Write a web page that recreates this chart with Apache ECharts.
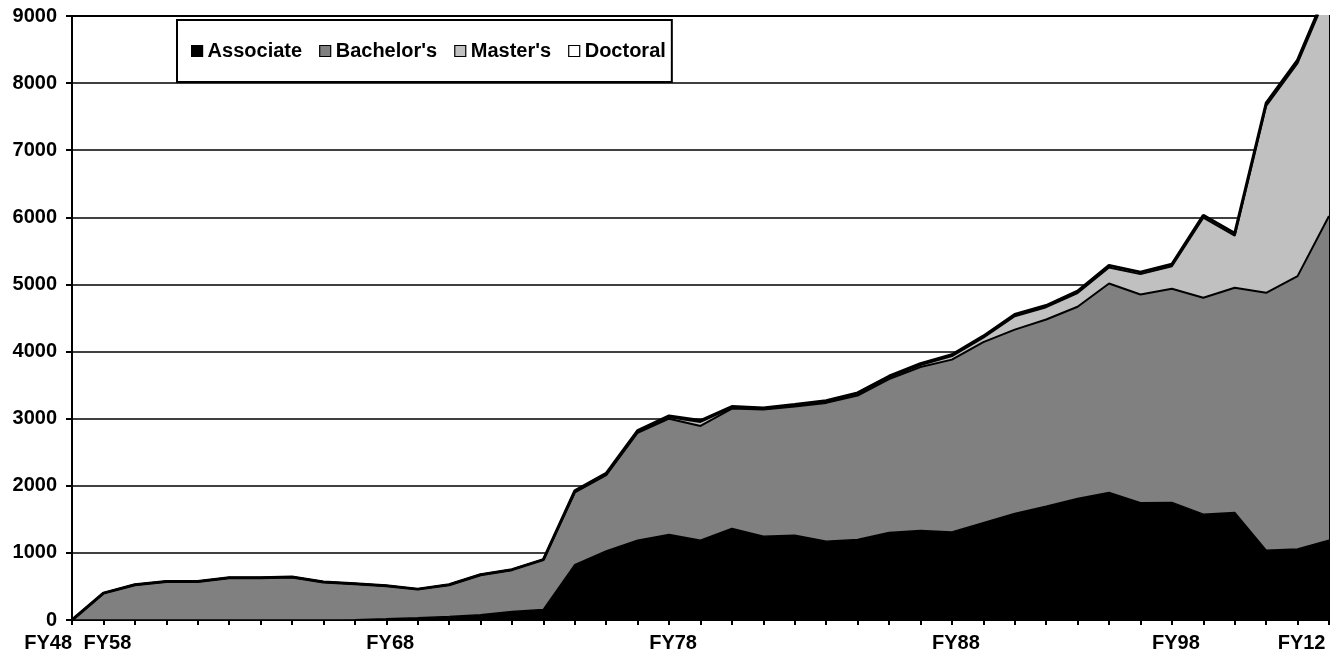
<!DOCTYPE html>
<html>
<head>
<meta charset="utf-8">
<script src="https://cdn.jsdelivr.net/npm/echarts@6/dist/echarts.min.js"></script>
<style>
html,body{margin:0;padding:0;background:#fff;}
#c{width:1340px;height:658px;}
</style>
</head>
<body>
<div id="c"></div>
<script>
const categories = ['FY48','FY58','FY59','FY60','FY61','FY62','FY63','FY64','FY65','FY66','FY68','FY69','FY70','FY71','FY72','FY73','FY74','FY75','FY76','FY78','FY79','FY80','FY81','FY82','FY83','FY84','FY85','FY86','FY88','FY89','FY90','FY91','FY92','FY94','FY96','FY98','FY00','FY03','FY06','FY12','FY13'];
const shownLabels = ['FY48','FY58','FY68','FY78','FY88','FY98','FY12'];
const yTicks = [0,1000,2000,3000,4000,5000,6000,7000,8000,9000];

const associate = [0,0,0,0,0,0,0,0,0,5,18,33,52,78,127,157,825,1028,1188,1275,1188,1363,1248,1263,1173,1198,1303,1333,1313,1450,1587,1697,1811,1901,1746,1752,1577,1602,1039,1058,1188];
const bachelors = [0,400,526,575,575,630,630,640,565,535,492,427,474,597,623,743,1075,1132,1602,1725,1704,1787,1887,1917,2062,2147,2287,2437,2567,2690,2740,2780,2856,3114,3105,3183,3224,3348,3837,4066,4833];
const masters = [0,0,0,0,0,0,0,0,0,0,0,0,0,0,0,0,10,10,15,20,60,15,10,15,15,22,24,30,53,68,200,184,205,239,303,335,1195,777,2784,3175,3379];
const doctoral = [0,0,0,0,0,0,0,0,0,0,0,0,0,0,0,0,15,15,17,20,20,16,15,15,16,18,18,20,20,22,25,25,28,30,30,30,35,35,40,45,50];

const FONT = '"Liberation Sans", Arial, sans-serif';

function mk(name, data, fill, lw) {
  return {
    name: name, type: 'line', stack: 'total', data: data,
    showSymbol: false, symbol: 'none', smooth: false,
    itemStyle: { color: fill },
    lineStyle: { color: '#000', width: lw },
    areaStyle: { color: fill, opacity: 1 },
    emphasis: { disabled: true },
    clip: true
  };
}

const chart = echarts.init(document.getElementById('c'), null, { renderer: 'canvas' });
chart.setOption({
  animation: false,
  backgroundColor: '#fff',
  grid: { left: 72, right: 11, top: 16, bottom: 38, show: true, borderColor: '#000', borderWidth: 2, backgroundColor: 'transparent' },
  legend: {
    left: 177, top: 20,
    padding: [21, 6, 21, 14],
    borderColor: '#000', borderWidth: 2, backgroundColor: '#fff',
    icon: 'rect', itemWidth: 11, itemHeight: 11, itemGap: 17,
    itemStyle: { borderColor: '#000', borderWidth: 1.2 },
    textStyle: { fontFamily: FONT, fontWeight: 'bold', fontSize: 20, color: '#000' },
    data: ['Associate', "Bachelor's", "Master's", 'Doctoral']
  },
  xAxis: {
    type: 'category', data: categories, boundaryGap: false,
    axisLine: { show: true, lineStyle: { color: '#000', width: 2 } },
    axisTick: { show: true, interval: 0, length: 5, lineStyle: { color: '#000', width: 2 } },
    axisLabel: {
      interval: 0, margin: 13, fontFamily: FONT, fontWeight: 'bold', fontSize: 20, color: '#000',
      padding: [0, 0, 0, 8], alignMinLabel: 'right', hideOverlap: false,
      formatter: function (v) { return shownLabels.indexOf(v) >= 0 ? v : ''; }
    },
    splitLine: { show: false }
  },
  yAxis: {
    type: 'value', min: yTicks[0], max: yTicks[yTicks.length - 1], interval: yTicks[1] - yTicks[0],
    axisLine: { show: true, lineStyle: { color: '#000', width: 2 } },
    axisTick: { show: true, length: 6, lineStyle: { color: '#000', width: 2 } },
    axisLabel: { margin: 15, fontFamily: FONT, fontWeight: 'bold', fontSize: 20, color: '#000',
      formatter: function (v) { return String(v); } },
    splitLine: { show: true, lineStyle: { color: '#000', width: 1.5 } }
  },
  series: [
    mk('Associate', associate, '#000000', 1.5),
    mk("Bachelor's", bachelors, '#808080', 2),
    mk("Master's", masters, '#c0c0c0', 2),
    mk('Doctoral', doctoral, '#ffffff', 3)
  ]
});
</script>
</body>
</html>
